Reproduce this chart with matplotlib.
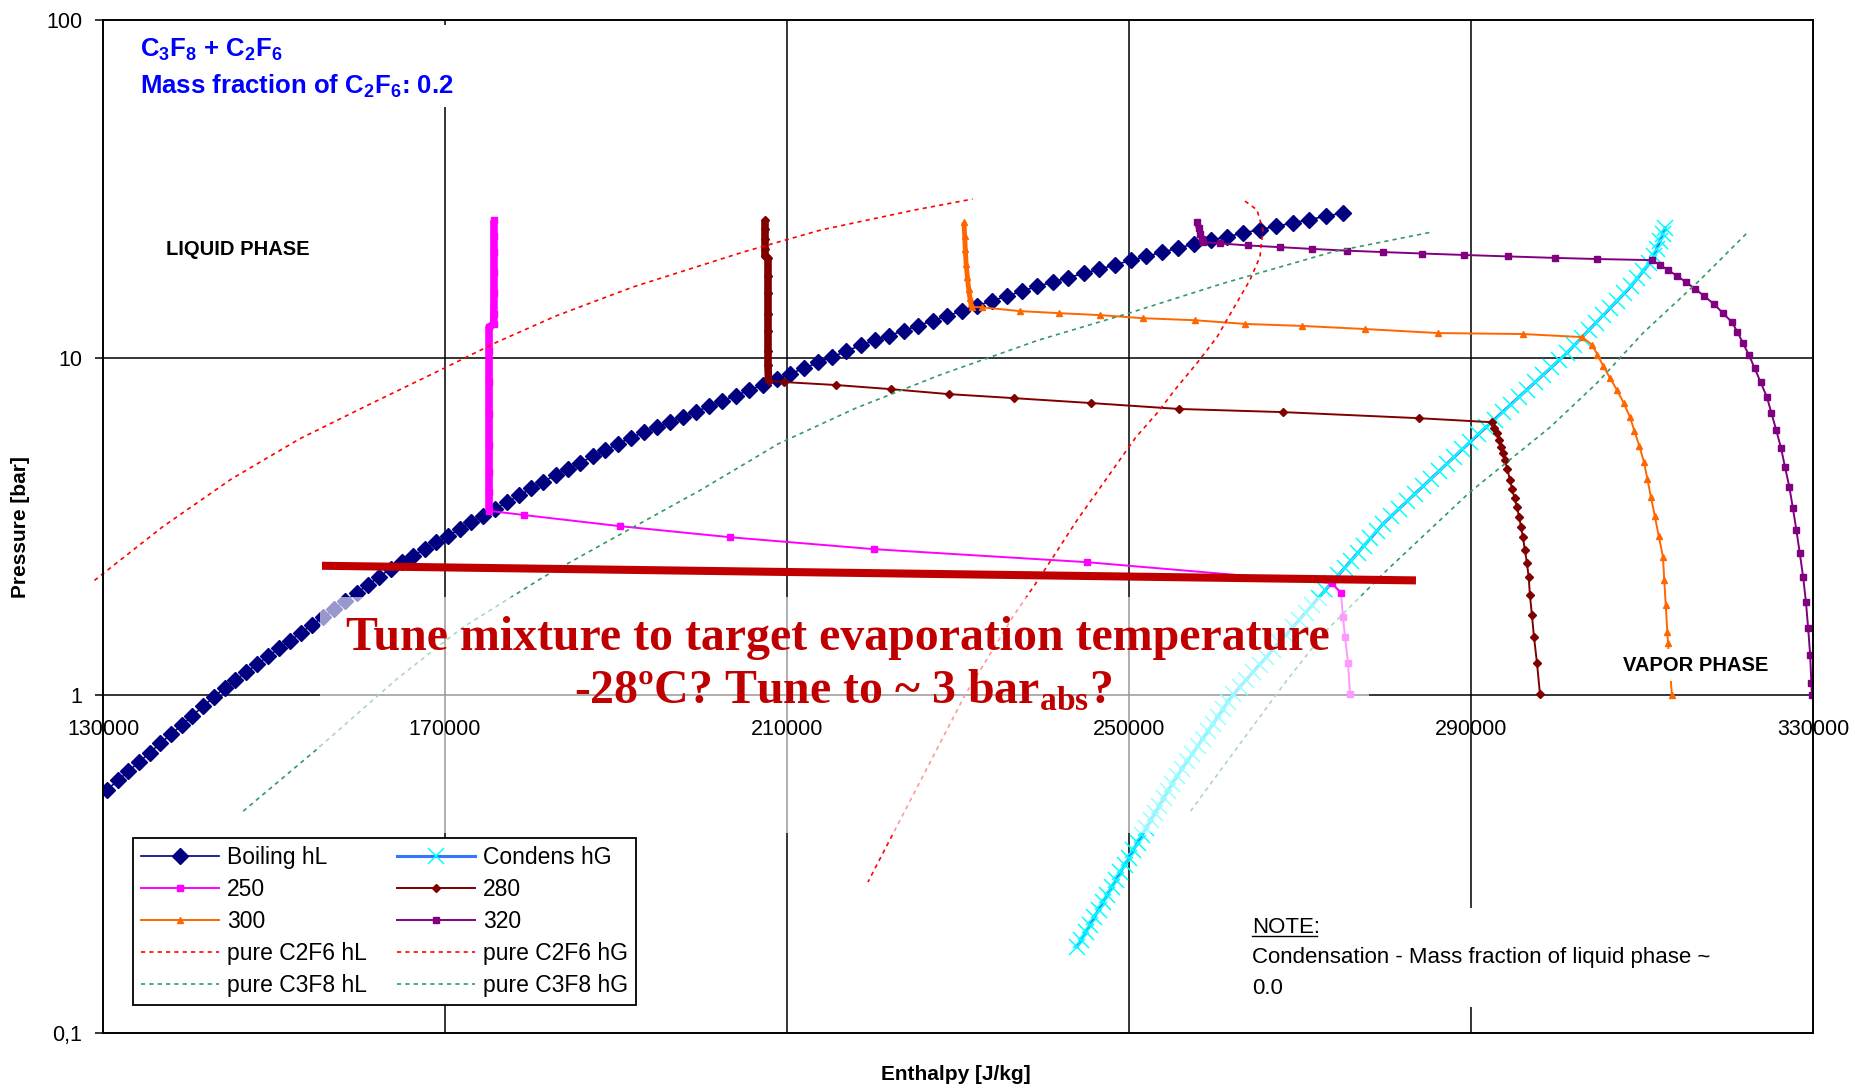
import matplotlib
matplotlib.use('Agg')
import matplotlib.pyplot as plt
from matplotlib.patches import Rectangle
from matplotlib.ticker import NullLocator

plt.rcParams['font.family'] = 'Liberation Sans'
plt.rcParams['mathtext.fontset'] = 'custom'
plt.rcParams['mathtext.rm'] = 'Liberation Sans'
plt.rcParams['mathtext.sf'] = 'Liberation Sans:bold'
plt.rcParams['mathtext.bf'] = 'Liberation Serif:bold'

# ---- data: enthalpy [J/kg] and pressure [bar] ----
boil_h = [130500, 131740, 132980, 134220, 135460, 136700, 137950, 139200, 140450, 141700,
          142960, 144220, 145480, 146750, 148020, 149300, 150580, 151860, 153150, 154440,
          155740, 157040, 158350, 159660, 160980, 162300, 163630, 164960, 166300, 167650,
          169000, 170360, 171730, 173100, 174480, 175870, 177270, 178680, 180100, 181520,
          182950, 184390, 185840, 187300, 188770, 190250, 191740, 193240, 194750, 196270,
          197800, 199340, 200890, 202450, 204020, 205600, 207190, 208790, 210400, 212020,
          213650, 215290, 216940, 218600, 220270, 221950, 223640, 225340, 227050, 228770,
          230500, 232240, 233990, 235750, 237520, 239300, 241090, 242890, 244700, 246520,
          248350, 250190, 252040, 253900, 255770, 257650, 259540, 261440, 263350, 265270,
          267200, 269140, 271090, 273050, 275020]
boil_p = [0.526, 0.560, 0.596, 0.635, 0.676, 0.721, 0.767, 0.817, 0.871, 0.927,
          0.989, 1.051, 1.109, 1.171, 1.236, 1.305, 1.377, 1.452, 1.532, 1.618,
          1.706, 1.803, 1.903, 2.009, 2.123, 2.244, 2.372, 2.483, 2.595, 2.716,
          2.838, 2.971, 3.111, 3.258, 3.408, 3.569, 3.733, 3.908, 4.102, 4.295,
          4.498, 4.688, 4.887, 5.105, 5.321, 5.559, 5.794, 6.012, 6.223, 6.442,
          6.684, 6.918, 7.178, 7.447, 7.726, 8.017, 8.318, 8.630, 8.965, 9.311,
          9.683, 10.06, 10.45, 10.88, 11.25, 11.63, 12.02, 12.45, 12.87, 13.31,
          13.77, 14.26, 14.73, 15.24, 15.74, 16.28, 16.75, 17.26, 17.76, 18.28,
          18.83, 19.41, 19.95, 20.53, 21.13, 21.72, 22.29, 22.81, 23.39, 23.94,
          24.49, 25.06, 25.65, 26.24, 26.83]

cond_h = [243920, 244426, 244932, 245438, 245944, 246450, 246956, 247462, 247968, 248474,
          248980, 249486, 249992, 250498, 251004, 251510, 252016, 252522, 253028, 253534,
          254040, 254546, 255052, 255642, 256236, 256830, 257424, 258018, 258612, 259206,
          259800, 260394, 260988, 261582, 262200, 262970, 263740, 264510, 265280, 266050,
          266820, 267590, 268360, 269130, 269900, 270659, 271418, 272177, 272936, 273695,
          274454, 275213, 275972, 276731, 277490, 278249, 279008, 279767, 280682, 281606,
          282530, 283454, 284378, 285302, 286226, 287150, 288074, 288998, 289922, 290863,
          291809, 292755, 293701, 294647, 295593, 296539, 297485, 298431, 299377, 300323,
          301264, 302100, 302936, 303772, 304608, 305444, 306280, 307116, 307952, 308764,
          309468, 310172, 310876, 311388, 311740, 312092, 312444, 312716]
cond_p = [0.180, 0.189, 0.199, 0.209, 0.220, 0.232, 0.244, 0.256, 0.270, 0.284,
          0.299, 0.314, 0.330, 0.348, 0.366, 0.385, 0.405, 0.426, 0.448, 0.471,
          0.495, 0.521, 0.548, 0.577, 0.607, 0.638, 0.671, 0.706, 0.743, 0.782,
          0.822, 0.865, 0.910, 0.957, 1.007, 1.059, 1.114, 1.172, 1.233, 1.297,
          1.365, 1.435, 1.510, 1.589, 1.671, 1.758, 1.849, 1.945, 2.046, 2.153,
          2.265, 2.382, 2.506, 2.636, 2.773, 2.917, 3.069, 3.228, 3.396, 3.573,
          3.758, 3.954, 4.159, 4.375, 4.603, 4.842, 5.093, 5.358, 5.636, 5.929,
          6.237, 6.561, 6.902, 7.261, 7.638, 8.035, 8.453, 8.892, 9.354, 9.840,
          10.35, 10.89, 11.46, 12.05, 12.68, 13.34, 14.03, 14.76, 15.52, 16.33,
          17.18, 18.07, 19.01, 20.00, 21.04, 22.13, 23.28, 24.21]

# isotherms: first n_liq points are the compressed-liquid branch
h250 = [175730, 175730, 175730, 175730, 175730, 175720, 175700, 175150, 175150, 175150,
        175150, 175150, 175150, 175150, 175150,
        179240, 190470, 203340, 220170, 245090, 273700,
        274800, 275030, 275270, 275620, 275850]
p250 = [25.5, 23.0, 20.5, 18.0, 15.5, 13.5, 12.6, 12.3, 10.5, 8.5,
        6.8, 5.5, 4.6, 4.0, 3.52,
        3.42, 3.17, 2.94, 2.71, 2.48, 2.15,
        2.01, 1.71, 1.49, 1.25, 1.01]
n_liq_250 = 15

h280 = [207430, 207430, 207430, 207430, 207430, 207780, 207780, 207780, 207780, 207780,
        207780, 207780, 207840,
        209650, 215730, 222170, 228950, 236550, 245560, 255850, 268010, 283920, 292460,
        292750, 293040, 293250, 293500, 293740, 293950, 294250, 294560, 294820, 295100,
        295380, 295630, 295850, 296080, 296300, 296550, 296750, 296900, 297130, 297370,
        297720, 298070]
p280 = [25.5, 24.0, 22.5, 21.0, 20.0, 19.7, 17.5, 15.5, 13.5, 12.0,
        10.5, 9.5, 8.55,
        8.47, 8.30, 8.07, 7.80, 7.59, 7.34, 7.05, 6.90, 6.62, 6.44,
        6.20, 5.98, 5.70, 5.45, 5.22, 4.98, 4.68, 4.35, 4.08, 3.83,
        3.61, 3.38, 3.16, 2.94, 2.70, 2.47, 2.24, 1.98, 1.73, 1.49,
        1.25, 1.01]
n_liq_280 = 13

h300 = [230700, 230780, 230850, 230950, 231100, 231250, 231400, 231520, 231640,
        232800, 237250, 241810, 246610, 251640, 257720, 263570, 270230, 277600, 286140,
        296080, 302980,
        304213, 304798, 305487, 306259, 307077, 307861, 308598, 309124, 309697, 310235,
        310633, 311054, 311499, 311967, 312458, 312610, 312785, 312972, 313042, 313510]
p300 = [25.2, 23.0, 21.0, 19.0, 17.3, 16.0, 15.0, 14.4, 14.13,
        14.10, 13.74, 13.55, 13.37, 13.09, 12.91, 12.59, 12.42, 12.16, 11.83,
        11.75, 11.51,
        10.89, 10.19, 9.44, 8.71, 8.02, 7.35, 6.67, 6.07, 5.47, 4.91,
        4.38, 3.86, 3.40, 2.96, 2.57, 2.19, 1.85, 1.54, 1.43, 1.00]
n_liq_300 = 9

h320 = [257960, 258150, 258350, 258550, 258700,
        260640, 263920, 267660, 271400, 275500, 279710, 284270, 289180, 294330, 299830, 304730,
        311171, 312118, 313066, 314130, 315136, 316259, 317288, 318423, 319475, 320528,
        321171, 321814, 322516, 323183, 323873, 324621, 325148, 325709, 326270, 326738,
        327241, 327651, 328060, 328458, 328855, 329183, 329440, 329674, 329814, 329885]
p320 = [25.2, 24.2, 23.2, 22.4, 22.0,
        21.8, 21.5, 21.25, 21.0, 20.75, 20.55, 20.35, 20.15, 19.95, 19.75, 19.6,
        19.45, 18.81, 18.17, 17.45, 16.75, 15.96, 15.22, 14.42, 13.55, 12.74,
        11.91, 11.05, 10.18, 9.31, 8.47, 7.64, 6.85, 6.10, 5.40, 4.74,
        4.14, 3.59, 3.09, 2.64, 2.24, 1.89, 1.58, 1.32, 1.09, 1.00]
n_liq_320 = 5

# pure-component saturation lines
c2f6_hl_h = [129000, 137000, 145000, 153000, 161000, 169600, 176000, 183000, 192000,
             205000, 214000, 225000, 231700]
c2f6_hl_p = [2.19, 3.16, 4.37, 5.75, 7.24, 9.23, 11.1, 13.3, 16.2,
             20.6, 23.9, 27.4, 29.5]
c2f6_hg_h = [263570, 264970, 265670, 265320, 264160, 262300, 260290, 257960, 255620,
             253280, 250820, 243920, 239600, 236430, 230800, 219470]
c2f6_hg_p = [29.1, 27.4, 23.9, 19.9, 17.0, 14.1, 11.5, 9.64, 8.18,
             6.85, 5.82, 3.30, 2.24, 1.71, 1.00, 0.280]
c3f8_hl_h = [146400, 155000, 164400, 172000, 181500, 190000, 200000, 209000, 218000,
             228000, 239400, 250000, 261000, 273900, 285400]
c3f8_hl_p = [0.454, 0.692, 1.12, 1.585, 2.24, 2.95, 4.07, 5.56, 7.08,
             8.91, 11.27, 13.55, 16.6, 20.6, 23.55]
c3f8_hg_h = [257200, 264160, 268480, 273000, 280300, 289880, 299240, 304730, 310120,
             316780, 322280]
c3f8_hg_p = [0.454, 0.789, 1.109, 1.549, 2.366, 4.00, 6.22, 8.41, 11.83,
             16.98, 23.4]

# hand-drawn target line
target_h = [155610, 283570]
target_p = [2.42, 2.19]

x_ticks = [130000, 170000, 210000, 250000, 290000, 330000]
y_ticks = [0.1, 1, 10, 100]
y_ticklabels = ['0,1', '1', '10', '100']

# ---- figure ----
fig = plt.figure(figsize=(18.56, 10.89), dpi=100)
ax = fig.add_axes([0.0555, 0.0514, 0.9213, 0.9302])
ax.set_yscale('log')
ax.set_xlim(130000, 330000)
ax.set_ylim(0.1, 100)

# gridlines drawn below everything
for xv in x_ticks[1:-1]:
    ax.axvline(xv, color='black', lw=1.1, zorder=1)
ax.axhline(10, color='black', lw=1.1, zorder=1)

for s in ['left', 'top', 'right']:
    ax.spines[s].set_linewidth(1.4)
ax.spines['bottom'].set_position(('data', 1))
ax.spines['bottom'].set_linewidth(1.1)
ax.spines['bottom'].set_zorder(1)
ax.plot([0, 1], [0, 0], transform=ax.transAxes, color='black', lw=1.4,
        clip_on=False, zorder=2.5)

ax.set_xticks(x_ticks)
ax.set_xticklabels([str(v) for v in x_ticks])
ax.tick_params(axis='x', length=0, pad=17, labelsize=15.5)
ax.xaxis.set_zorder(4)
ax.set_yticks(y_ticks)
ax.set_yticklabels(y_ticklabels)
ax.yaxis.set_minor_locator(NullLocator())
ax.tick_params(axis='y', direction='out', length=6, width=1.1, pad=9, labelsize=15.5)

fig.text(21 / 1856, 1 - 527 / 1089, 'Pressure [bar]', rotation=90, ha='center',
         va='center', fontsize=15, fontweight='bold')
fig.text(956 / 1856, 1 - 1075 / 1089, 'Enthalpy [J/kg]', ha='center', va='center',
         fontsize=15, fontweight='bold')

# series
l_boil, = ax.plot(boil_h, boil_p, color='#000080', lw=1.2, marker='D', ms=8.5,
                  label='Boiling hL', zorder=2.2)
l_cond, = ax.plot(cond_h, cond_p, color='#3377ff', lw=2.2, marker='x', ms=12,
                  mec='#00ffff', mew=1.1, label='Condens hG', zorder=2.1)


def isotherm(h, p, n_liq, color, marker, ms, label, liq_lw):
    ax.plot(h[:n_liq], p[:n_liq], color=color, lw=liq_lw, solid_capstyle='butt', zorder=2.3)
    line, = ax.plot(h, p, color=color, lw=1.4, marker=marker, ms=ms, mec=color,
                    label=label, zorder=2.3)
    return line


l250 = isotherm(h250, p250, n_liq_250, '#ff00ff', 's', 5, '250', 5.5)
l280 = isotherm(h280, p280, n_liq_280, '#800000', 'D', 4.5, '280', 5.5)
l300 = isotherm(h300, p300, n_liq_300, '#ff6600', '^', 4.5, '300', 3.5)
l320 = isotherm(h320, p320, n_liq_320, '#800080', 's', 4, '320', 4.0)

dash = (0, (2.5, 2.5))
l_c2hl, = ax.plot(c2f6_hl_h, c2f6_hl_p, color='#ff0000', lw=1.2, ls=dash,
                  label='pure C2F6 hL', clip_on=False, zorder=2.4)
l_c2hg, = ax.plot(c2f6_hg_h, c2f6_hg_p, color='#ff0000', lw=1.2, ls=dash,
                  label='pure C2F6 hG', zorder=2.4)
l_c3hl, = ax.plot(c3f8_hl_h, c3f8_hl_p, color='#339966', lw=1.2, ls=dash,
                  label='pure C3F8 hL', zorder=2.4)
l_c3hg, = ax.plot(c3f8_hg_h, c3f8_hg_p, color='#339966', lw=1.2, ls=dash,
                  label='pure C3F8 hG', zorder=2.4)

handles = [l_boil, l250, l300, l_c2hl, l_c3hl, l_cond, l280, l320, l_c2hg, l_c3hg]
leg = ax.legend(handles=handles, labels=[h.get_label() for h in handles], ncol=2,
                loc='upper left', bbox_to_anchor=(0.0175, 0.1925), fontsize=16.5,
                frameon=True, fancybox=False, edgecolor='black', framealpha=1,
                borderpad=0.35, labelspacing=0.39, handlelength=3.4, handletextpad=0.35,
                columnspacing=1.3, borderaxespad=0, numpoints=1)
leg.get_frame().set_linewidth(1.3)

# faded box behind the annotation
ax.add_patch(Rectangle((0.1269, 0.1974), 0.6135, 0.233, transform=ax.transAxes,
                       fc='white', ec='none', alpha=0.6, zorder=3))
ax.plot(target_h, target_p, color='#c00000', lw=5.8, solid_capstyle='butt', zorder=4)
ax.text(0.4298, 0.3781, 'Tune mixture to target evaporation temperature',
        transform=ax.transAxes, ha='center', va='baseline', family='Liberation Serif',
        fontweight='bold', fontsize=34.5, color='#c00000', zorder=5)
ax.text(0.4327, 0.3258, r'-28ºC? Tune to ~ 3 bar$_{\mathbf{abs}}$?',
        transform=ax.transAxes, ha='center', va='baseline', family='Liberation Serif',
        fontweight='bold', fontsize=34.5, color='#c00000', zorder=5)

# title block
ax.add_patch(Rectangle((0.0158, 0.9141), 0.1988, 0.081, transform=ax.transAxes,
                       fc='white', ec='none', zorder=3))
ax.text(0.0216, 0.9704, r'C$_{\mathsf{3}}$F$_{\mathsf{8}}$ + C$_{\mathsf{2}}$F$_{\mathsf{6}}$',
        transform=ax.transAxes, ha='left', va='center', fontsize=18.5,
        fontweight='bold', color='#0000ff', zorder=5)
ax.text(0.0216, 0.9348, r'Mass fraction of C$_{\mathsf{2}}$F$_{\mathsf{6}}$: 0.2',
        transform=ax.transAxes, ha='left', va='center', fontsize=18.5,
        fontweight='bold', color='#0000ff', zorder=5)

ax.text(0.0368, 0.7739, 'LIQUID PHASE', transform=ax.transAxes, ha='left', va='center',
        fontsize=14.5, fontweight='bold', zorder=5)
ax.text(0.8889, 0.3633, 'VAPOR PHASE', transform=ax.transAxes, ha='left', va='center',
        fontsize=14.5, fontweight='bold', zorder=5,
        bbox=dict(boxstyle='square,pad=0.3', fc='white', ec='none'))

# note block
ax.add_patch(Rectangle((0.6649, 0.0257), 0.2866, 0.0977, transform=ax.transAxes,
                       fc='white', ec='none', zorder=3))
ax.text(0.6719, 0.1046, 'NOTE:', transform=ax.transAxes, ha='left', va='center',
        fontsize=16, zorder=5)
ax.plot([0.6719, 0.7099], [0.0958, 0.0958], transform=ax.transAxes, color='black',
        lw=1.0, zorder=5)
ax.text(0.6719, 0.0750, 'Condensation - Mass fraction of liquid phase ~',
        transform=ax.transAxes, ha='left', va='center', fontsize=16, zorder=5)
ax.text(0.6719, 0.0444, '0.0', transform=ax.transAxes, ha='left', va='center',
        fontsize=16, zorder=5)

fig.savefig('out.png', dpi=100)
